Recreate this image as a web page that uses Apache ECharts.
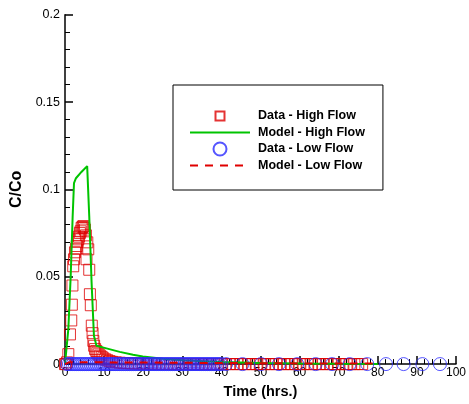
<!DOCTYPE html>
<html>
<head>
<meta charset="utf-8">
<script src="https://cdn.jsdelivr.net/npm/echarts@6/dist/echarts.min.js"></script>
<style>
html,body{margin:0;padding:0;background:#fff;}
#chart{width:469px;height:404px;}
</style>
</head>
<body>
<div id="chart"></div>
<script>
// ---- Data ----
const xTicks = [0, 10, 20, 30, 40, 50, 60, 70, 80, 90, 100];
const yTicks = [0, 0.05, 0.1, 0.15, 0.2];

// Data - High Flow (red squares)
const highDataT = [0, 0.25, 0.5, 0.85, 1.27, 1.6, 1.75, 1.9, 2.1, 2.3, 2.55, 2.8, 3.0, 3.2, 3.4, 3.6, 3.8, 4.0, 4.25, 4.5, 4.7, 4.9, 5.1, 5.35, 5.5, 5.7, 5.95, 6.2, 6.37, 6.6, 6.85, 7.05, 7.25, 7.45, 7.7, 8.0, 8.3, 8.6, 9.0, 9.4, 9.8, 10.3, 10.8, 11.4, 12,
  13, 14, 15, 16, 17, 18, 19, 20, 21, 22, 23, 24, 25, 26, 27, 28, 29, 30, 31, 32, 33, 34, 35, 36, 37, 38, 39, 40,
  41, 42, 43, 44, 45, 46, 47, 48, 49, 50, 51, 52, 53, 54, 55, 56, 57, 58, 59, 60, 61, 62, 63, 64, 65, 66, 67, 68, 69, 70, 71, 72, 73, 74, 75, 76];
const highDataC = [0, 0, 0.001, 0.0057, 0.017, 0.025, 0.034, 0.045, 0.056, 0.060, 0.064, 0.066, 0.0676, 0.070, 0.0714, 0.073, 0.075, 0.076, 0.078, 0.0785, 0.079, 0.078, 0.077, 0.0737, 0.060, 0.0697, 0.0657, 0.054, 0.040, 0.0337, 0.022, 0.0177, 0.0133, 0.0105, 0.0086, 0.0075, 0.0065, 0.0056, 0.0048, 0.004, 0.0033, 0.0027, 0.0022, 0.0017, 0.0013,
  0.001, 0.0008, 0.0006, 0.0005, 0.0004, 0.0003, 0.0003, 0.0002, 0.0002, 0.0002, 0.0001, 0.0001, 0.0001, 0.0001, 0.0001, 0, 0, 0, 0, 0, 0, 0, 0, 0, 0, 0, 0, 0,
  0, 0, 0, 0, 0, 0, 0, 0, 0, 0, 0, 0, 0, 0, 0, 0, 0, 0, 0, 0, 0, 0, 0, 0, 0, 0, 0, 0, 0, 0, 0, 0, 0, 0, 0, 0];

// Model - High Flow (green line)
const modelHighT = [0, 0.42, 0.85, 1.45, 1.96, 2.3, 2.8, 4.2, 5.67, 6.2, 6.8, 7.4, 8.05, 10.6, 14, 17.4, 19.9, 25, 30, 40, 50, 60, 70, 80];
const modelHighC = [0, 0.001, 0.020, 0.050, 0.0847, 0.1036, 0.1064, 0.110, 0.1133, 0.0847, 0.0467, 0.0162, 0.0105, 0.0090, 0.0070, 0.0053, 0.0044, 0.003, 0.0022, 0.0012, 0.0007, 0.0004, 0.0002, 0.0001];

// Data - Low Flow (blue circles)
const lowDataT = [0.5, 1, 1.5, 2, 2.5, 3, 3.5, 4, 4.5, 5, 5.5, 6, 6.5, 7, 7.5, 8, 8.5, 9, 9.5, 10,
  10.5, 11, 11.5, 12, 12.5, 13, 13.5, 14, 14.5, 15, 15.5, 16, 16.5, 17, 17.5, 18, 18.5, 19, 19.5, 20,
  20.5, 21, 21.5, 22, 22.5, 23, 23.5, 24, 24.5, 25, 25.5, 26, 26.5, 27, 27.5, 28, 28.5, 29, 29.5, 30,
  30.5, 31, 31.5, 32, 32.5, 33, 33.5, 34, 34.5, 35, 35.5, 36, 36.5, 37, 37.5, 38, 38.5, 39, 39.5, 40,
  41.2, 45.4, 50.1, 54.7, 59.4, 64.1, 68.3, 72.8, 77.3, 82.1, 86.6, 91.4, 95.9];
const lowDataC = [0, 0, 0, 0, 0, 0, 0, 0, 0, 0, 0, 0, 0, 0, 0, 0, 0, 0, 0, 0,
  0, 0, 0, 0, 0, 0, 0, 0, 0, 0, 0, 0, 0, 0, 0, 0, 0, 0, 0, 0,
  0, 0, 0, 0, 0, 0, 0, 0, 0, 0, 0, 0, 0, 0, 0, 0, 0, 0, 0, 0,
  0, 0, 0, 0, 0, 0, 0, 0, 0, 0, 0, 0, 0, 0, 0, 0, 0, 0, 0, 0,
  0, 0, 0, 0, 0, 0, 0, 0, 0, 0, 0, 0, 0];

// Model - Low Flow (red dashed line)
const modelLowT = [0, 1, 5, 10, 20, 40, 60, 80];
const modelLowC = [0, 0.001, 0.001, 0.001, 0.0009, 0.0006, 0.0004, 0.0003];

const seriesNames = ['Data - High Flow', 'Model - High Flow', 'Data - Low Flow', 'Model - Low Flow'];

function pairs(t, c) { return t.map((v, i) => [v, c[i]]); }

const FONT = 'Liberation Sans, Arial, sans-serif';
const HIDDEN_SYMBOL = {color: 'rgba(0,0,0,0)', borderColor: 'rgba(0,0,0,0)', borderWidth: 0, opacity: 0};
const chart = echarts.init(document.getElementById('chart'), null, {renderer: 'canvas'});
chart.setOption({
  animation: false,
  backgroundColor: '#fff',
  grid: {left: 65, right: 11.3, top: 14.7, bottom: 39, containLabel: false},
  xAxis: {
    type: 'value', min: xTicks[0], max: xTicks[xTicks.length - 1], interval: xTicks[1] - xTicks[0],
    name: 'Time (hrs.)', nameLocation: 'middle', nameGap: 17,
    nameTextStyle: {fontFamily: FONT, fontWeight: 'bold', fontSize: 14.5, color: '#000'},
    axisLine: {show: true, onZero: false, lineStyle: {color: '#000', width: 1.5}},
    axisTick: {show: true, inside: true, length: 8, lineStyle: {color: '#000', width: 1.5}},
    minorTick: {show: true, splitNumber: 5, length: 5, lineStyle: {color: '#000', width: 1}},
    splitLine: {show: false},
    axisLabel: {fontFamily: FONT, fontSize: 12, color: '#000', margin: 3}
  },
  yAxis: {
    type: 'value', min: yTicks[0], max: yTicks[yTicks.length - 1], interval: yTicks[1] - yTicks[0],
    name: 'C/Co', nameLocation: 'middle', nameGap: 37, nameRotate: 90,
    nameTextStyle: {fontFamily: FONT, fontWeight: 'bold', fontSize: 16, color: '#000'},
    axisLine: {show: true, onZero: false, lineStyle: {color: '#000', width: 1.5}},
    axisTick: {show: true, inside: true, length: 8, lineStyle: {color: '#000', width: 1.5}},
    minorTick: {show: true, splitNumber: 5, length: 5, lineStyle: {color: '#000', width: 1}},
    splitLine: {show: false},
    axisLabel: {fontFamily: FONT, fontSize: 12.5, color: '#000', margin: 5}
  },
  legend: {
    orient: 'vertical', left: 173, top: 85,
    itemWidth: 60, itemHeight: 14, itemGap: 2,
    padding: [23, 18, 18, 16],
    borderColor: '#000', borderWidth: 1, backgroundColor: '#fff',
    textStyle: {fontFamily: FONT, fontWeight: 'bold', fontSize: 12.5, color: '#000', padding: [0, 0, 0, 3]},
    data: [
      {name: seriesNames[0], icon: 'path://M0,0M14,14M2.5,2.5L11.5,2.5L11.5,11.5L2.5,11.5Z'},
      {name: seriesNames[1], itemStyle: HIDDEN_SYMBOL},
      {name: seriesNames[2], icon: 'path://M0,0M14,14M7,0.5A6.5,6.5,0,1,1,6.99,0.5Z'},
      {name: seriesNames[3], itemStyle: HIDDEN_SYMBOL}
    ]
  },
  series: [
    {
      name: seriesNames[0], type: 'scatter', symbol: 'rect', symbolSize: 11, z: 2,
      itemStyle: {color: 'rgba(0,0,0,0)', borderColor: '#dd0000', borderWidth: 1},
      data: pairs(highDataT, highDataC)
    },
    {
      name: seriesNames[1], type: 'line', symbol: 'none', showSymbol: false, z: 3,
      lineStyle: {color: '#00c400', width: 2}, itemStyle: {color: '#00c400'},
      data: pairs(modelHighT, modelHighC)
    },
    {
      name: seriesNames[2], type: 'scatter', symbol: 'circle', symbolSize: 13, z: 4,
      itemStyle: {color: 'rgba(0,0,0,0)', borderColor: '#2a2aff', borderWidth: 1},
      data: pairs(lowDataT, lowDataC)
    },
    {
      name: seriesNames[3], type: 'line', symbol: 'none', showSymbol: false, z: 5,
      lineStyle: {color: '#e00000', width: 2, type: [8, 7]}, itemStyle: {color: '#e00000'},
      data: pairs(modelLowT, modelLowC)
    }
  ]
});
</script>
</body>
</html>
